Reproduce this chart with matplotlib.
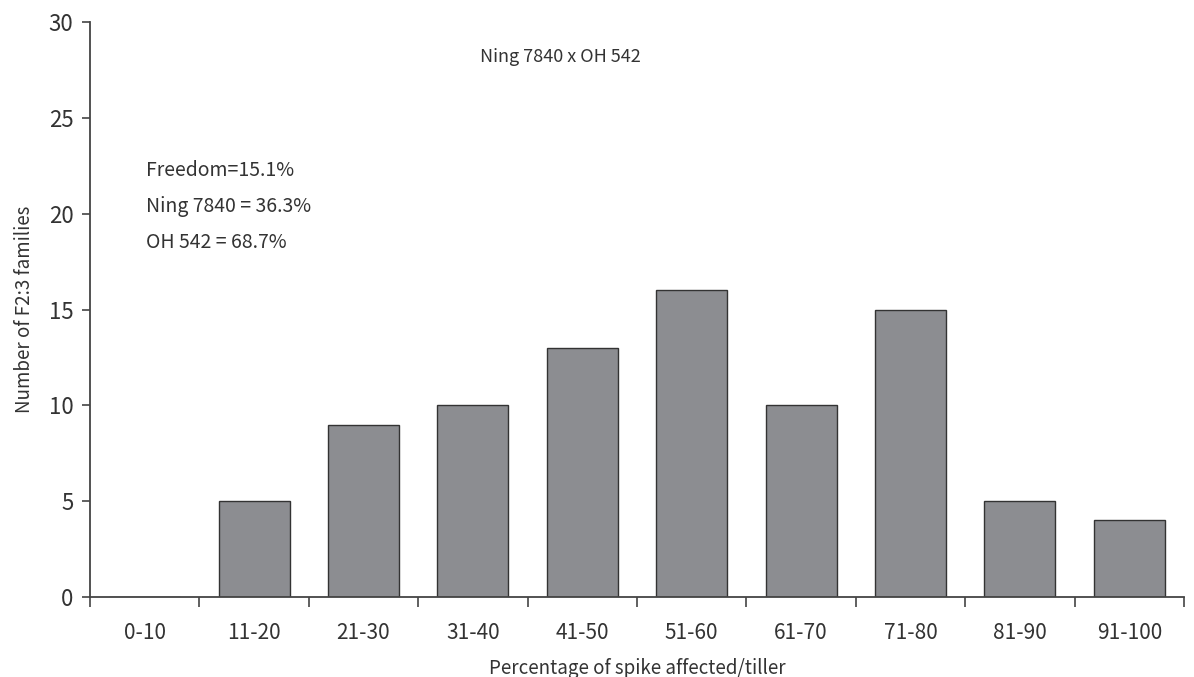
import matplotlib
matplotlib.use("Agg")
import matplotlib.pyplot as plt
import numpy as np

# data
categories = ["0-10", "11-20", "21-30", "31-40", "41-50",
              "51-60", "61-70", "71-80", "81-90", "91-100"]
counts = [0, 5, 9, 10, 13, 16, 10, 15, 5, 4]
y_ticks = [0, 5, 10, 15, 20, 25, 30]
cross_label = "Ning 7840 x OH 542"
parent_lines = ["Freedom=15.1%", "Ning 7840 = 36.3%", "OH 542 = 68.7%"]

plt.rcParams["font.family"] = ["Noto Sans CJK KR", "DejaVu Sans"]
txt = "#333333"

fig = plt.figure(figsize=(11.94, 6.77), dpi=100)
ax = fig.add_axes([0.0754, 0.118, 0.9162, 0.8495])

x = np.arange(len(categories))
ax.bar(x, counts, width=0.65, color="#8c8d91", edgecolor="#333333", linewidth=1.0)

ax.set_xlim(-0.5, len(categories) - 0.5)
ax.set_ylim(0, 30)
ax.set_yticks(y_ticks)
ax.set_xticks(x)
ax.set_xticklabels(categories)
ax.set_xticks(np.arange(-0.5, len(categories), 1.0), minor=True)
ax.tick_params(axis="x", which="major", length=0, pad=18, labelsize=15, colors=txt)
ax.tick_params(axis="x", which="minor", length=7, width=1.2, color="#444444")
ax.tick_params(axis="y", length=6, width=1.2, color="#444444", labelsize=16, labelcolor=txt, pad=6)

for s in ["top", "right"]:
    ax.spines[s].set_visible(False)
for s in ["left", "bottom"]:
    ax.spines[s].set_color("#444444")
    ax.spines[s].set_linewidth(1.3)

ax.set_xlabel("Percentage of spike affected/tiller", fontsize=13.5, color=txt, labelpad=10)
ax.set_ylabel("Number of F2:3 families", fontsize=13.5, color=txt, labelpad=10)

ax.text(0.43, 0.94, cross_label, transform=ax.transAxes, ha="center", va="center",
        fontsize=13, color=txt)
for i, line in enumerate(parent_lines):
    ax.text(0.051, 0.742 - i * 0.0625, line, transform=ax.transAxes, ha="left",
            va="center", fontsize=14, color=txt)

fig.savefig("out.png", dpi=100, facecolor="white")
